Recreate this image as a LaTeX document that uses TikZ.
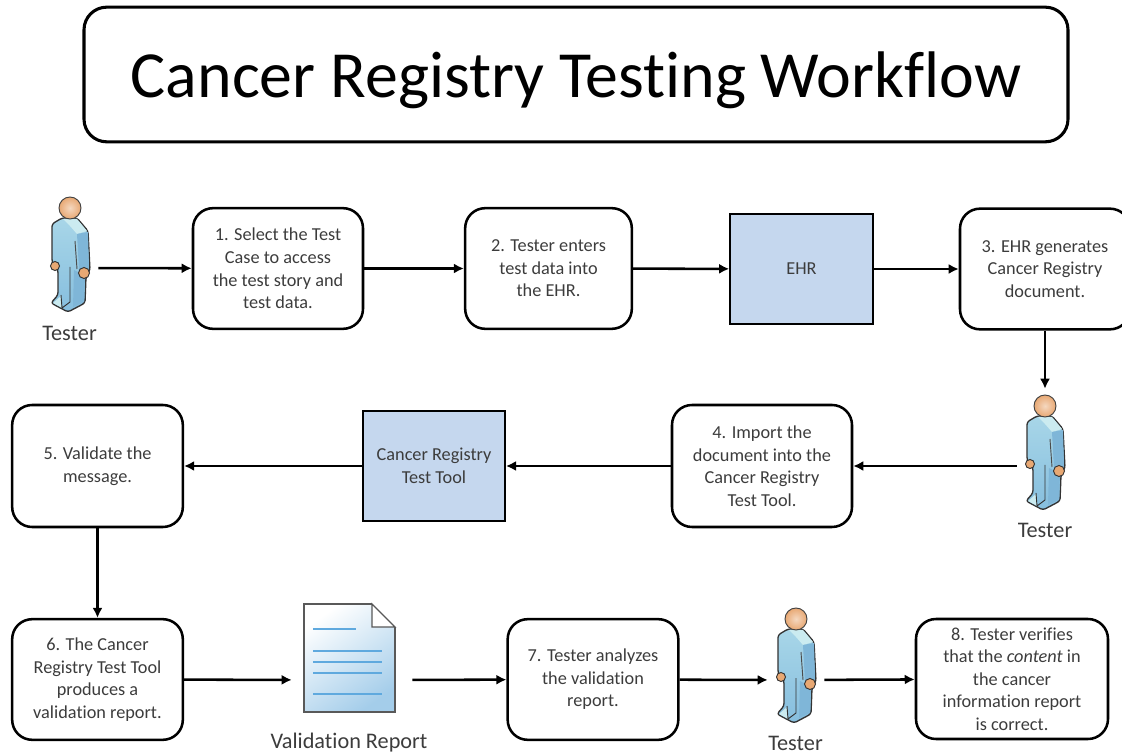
\documentclass[tikz,border=0pt]{standalone}
\usepackage{fontspec}
\setmainfont[Ligatures=NoCommon]{Carlito}
\usetikzlibrary{arrows.meta}
\definecolor{toolblue}{HTML}{C5D7EE}
\definecolor{labelgray}{HTML}{3C3C3C}
\definecolor{suittop}{HTML}{A8D6E8}
\definecolor{suitbottom}{HTML}{86BEDE}
\definecolor{suitdark}{HTML}{7FB6D8}
\definecolor{suitlight}{HTML}{CBEBF0}
\definecolor{skin}{HTML}{E8A873}
\definecolor{pagedark}{HTML}{A4CDEA}
\definecolor{pageline}{HTML}{5FA9DE}
\tikzset{
	stepbox/.style={draw=black, line width=1.9pt, rounded corners=15pt, inner sep=0pt, align=center, font=\fontsize{13.7}{16.9}\selectfont, text=labelgray},
	toolbox/.style={draw=black, line width=1.5pt, fill=toolblue, inner sep=0pt, align=center, font=\fontsize{13.7}{16.9}\selectfont, text=labelgray},
	flow/.style={-{Latex[length=7.5pt,width=7.5pt]}, line width=1.9pt},
	slot/.style={inner sep=0pt, minimum width=56*0.75pt, minimum height=154*0.75pt},
	caption/.style={inner sep=0pt, text=labelgray, font=\fontsize{16.7}{19}\selectfont},
	tester/.pic={
		\draw[draw=black!80, line width=1pt, top color=suittop, bottom color=suitbottom, rounded corners=2pt] (-18,16) -- (-8,10) -- (7,10) -- (18,23) -- (20,62) -- (16,69) -- (15,95) -- (-2,104) -- (-19,95) -- (-12,87) -- (-12,62) -- (-18,54) -- cycle;
		\fill[suitlight] (-7,11) -- (7,11) -- (17,23) -- (7,26) -- (0,18) -- cycle;
		\fill[suitdark] (7,26) -- (18,24) -- (19,61) -- (9,62) -- cycle;
		\fill[suitdark] (4,62) -- (15,68) -- (14,94) -- (3,99) -- cycle;
		\fill[suitlight] (-17,95) -- (-9,88) -- (-8,100) -- cycle;
		\draw[black!70, line width=0.7pt] (5,33) -- (7,61);
		\draw[black!80, line width=0.7pt] (0,59) -- (0,94) -- (-8,100) -- (-9,87);
		\draw[black!80, line width=0.7pt, fill=skin] (-15,58) circle (4.5);
		\draw[black!80, line width=0.7pt, fill=skin] (14,65) circle (5.5);
		\draw[black!75, line width=0.7pt, inner color=skin!45, outer color=skin] (0,0) circle (11);
	}
}
\begin{document}
\begin{tikzpicture}[x=0.75pt, y=-0.75pt]
		\useasboundingbox (0,0) rectangle (1122,755);
		\node[draw=black, line width=2.3pt, rounded corners=17pt, inner sep=0pt, minimum width=738pt, minimum height=101pt, text height=44pt, text depth=10.2pt, font=\fontsize{49.4}{56}\selectfont] (title) at (576,74.5) {Cancer Registry Testing Workflow};

		% first row
		\node[slot] (testerA) at (70,268) {};
		\pic at (70,208) {tester};
		\node[caption] (labelA) at (69.5,333) {Tester};
		\node[stepbox, minimum width=127.5pt, minimum height=90.5pt] (boxA) at (278,268.5) {1. Select the Test\\Case to access\\the test story and\\test data.};
		\node[stepbox, minimum width=125pt, minimum height=90.5pt] (boxB) at (548.5,268.5) {2. Tester enters\\test data into\\the EHR.};
		\node[toolbox, minimum width=107pt, minimum height=82.5pt] (ehr) at (801.5,269) {EHR};
		\node[stepbox, minimum width=127.5pt, minimum height=90.5pt] (boxC) at (1045,269) {3. EHR generates\\Cancer Registry\\document.};

		% second row
		\node[slot] (testerB) at (1045,466) {};
		\pic at (1045,406) {tester};
		\node[caption] (labelB) at (1045,530) {Tester};
		\node[stepbox, minimum width=135pt, minimum height=91.5pt] (boxD) at (762,466) {4. Import the\\document into the\\Cancer Registry\\Test Tool.};
		\node[toolbox, minimum width=106.5pt, minimum height=82.5pt] (tool) at (434,466) {Cancer Registry\\Test Tool};
		\node[stepbox, minimum width=128pt, minimum height=91.5pt] (boxE) at (97.5,466) {5. Validate the\\message.};

		% third row
		\node[stepbox, minimum width=128pt, minimum height=90.5pt] (boxF) at (97.5,679.5) {6. The Cancer\\Registry Test Tool\\produces a\\validation report.};
		\node[inner sep=0pt, minimum width=90pt, minimum height=81pt] (report) at (352,680) {};
		\shade[top color=white, bottom color=pagedark, shading angle=35] (304,604) -- (372,604) -- (395,627) -- (395,712) -- (304,712) -- cycle;
		\draw[black!65, line width=0.9pt, fill=white] (372,604) -- (372,627) -- (395,627) -- cycle;
		\draw[black!65, line width=0.9pt] (372,604) -- (304,604) -- (304,712) -- (395,712) -- (395,627);
		\draw[pageline, line width=0.8pt] (313,629) -- (356,629);
		\foreach \liney in {651,662,673,694}
			\draw[pageline, line width=0.8pt] (313,\liney) -- (382,\liney);
		\node[caption] (labelR) at (349,743) {Validation Report};
		\node[stepbox, minimum width=128pt, minimum height=90.5pt] (boxG) at (593,679.5) {7. Tester analyzes\\the validation\\report.};
		\node[slot] (testerC) at (796,680) {};
		\pic at (796,619) {tester};
		\node[caption] (labelC) at (795.5,743) {Tester};
		\node[stepbox, minimum width=144pt, minimum height=90pt] (boxH) at (1012,679) {8. Tester verifies\\that the \textit{content} in\\the cancer\\information report\\is correct.};

		\draw[flow] (testerA) -- (boxA);
		\draw[flow] (boxA) -- (boxB);
		\draw[flow] (boxB) -- (ehr);
		\draw[flow] (ehr) -- (boxC);
		\draw[flow] (boxC) -- (testerB);
		\draw[flow] (testerB) -- (boxD);
		\draw[flow] (boxD) -- (tool);
		\draw[flow] (tool) -- (boxE);
		\draw[flow] (boxE) -- (boxF);
		\draw[flow] (boxF) -- (report);
		\draw[flow] (report) -- (boxG);
		\draw[flow] (boxG) -- (testerC);
		\draw[flow] (testerC) -- (boxH);
\end{tikzpicture}
\end{document}
